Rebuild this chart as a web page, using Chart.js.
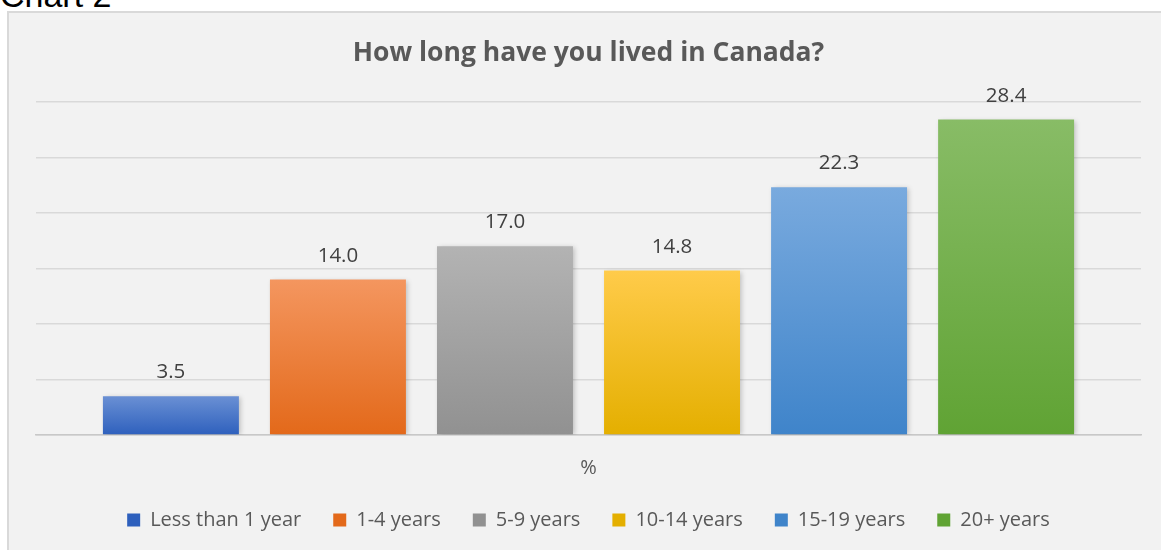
<!DOCTYPE html>
<html>
<head>
<meta charset="utf-8">
<script src="https://cdn.jsdelivr.net/npm/chart.js@4"></script>
<style>
  html, body { margin: 0; padding: 0; background: #ffffff; }
  body { width: 1161px; height: 550px; position: relative; overflow: hidden; }
  #caption {
    position: absolute; left: 0; top: -22px;
    font: 34px/1 "Liberation Sans", Arial, sans-serif; color: #000;
  }
  #frame {
    position: absolute; left: 7px; top: 11px; width: 1170px; height: 560px;
    background: #f2f2f2; border: 2px solid #d9d9d9; box-sizing: border-box;
  }
  #chartCanvas { position: absolute; left: 0; top: 0; }
</style>
</head>
<body>
<div id="caption">Chart 2</div>
<div id="frame"></div>
<canvas id="chartCanvas" width="1161" height="550"></canvas>
<script>
const categories = ["%"];
const seriesNames = ["Less than 1 year", "1-4 years", "5-9 years", "10-14 years", "15-19 years", "20+ years"];
const seriesValues = [3.5, 14.0, 17.0, 14.8, 22.3, 28.4];
const colorsTop = ["#6a90d4", "#f4965f", "#b3b3b3", "#ffcb4a", "#79aade", "#88bc66"];
const colorsBottom = ["#2e60bd", "#e3691a", "#919191", "#e4af00", "#3f84ca", "#60a334"];
const yTicks = [0, 5, 10, 15, 20, 25, 30];

const fontFamily = "'Open Sans', 'Noto Sans', sans-serif";

function barGradient(context, i) {
  const { chart } = context;
  const { ctx, chartArea, scales } = chart;
  if (!chartArea || context.type !== "data") {
    return colorsBottom[i];
  }
  const yBase = scales.y.getPixelForValue(0);
  const yTop = scales.y.getPixelForValue(context.raw);
  const grad = ctx.createLinearGradient(0, yTop, 0, yBase);
  grad.addColorStop(0, colorsTop[i]);
  grad.addColorStop(1, colorsBottom[i]);
  return grad;
}

const valueLabels = {
  id: "valueLabels",
  afterDatasetsDraw(chart) {
    const { ctx } = chart;
    ctx.save();
    ctx.font = `20.5px ${fontFamily}`;
    ctx.fillStyle = "#404040";
    ctx.textAlign = "center";
    ctx.textBaseline = "alphabetic";
    chart.data.datasets.forEach((ds, i) => {
      const meta = chart.getDatasetMeta(i);
      meta.data.forEach((bar, j) => {
        ctx.fillText(ds.data[j].toFixed(1), bar.x, bar.y - 18);
      });
    });
    ctx.restore();
  },
};

const barShadow = {
  id: "barShadow",
  beforeDatasetsDraw(chart) {
    const { ctx } = chart;
    ctx.save();
    ctx.shadowColor = "rgba(0,0,0,0.22)";
    ctx.shadowBlur = 5;
    ctx.shadowOffsetX = 2;
    ctx.shadowOffsetY = 1;
  },
  afterDatasetsDraw(chart) {
    chart.ctx.restore();
  },
};

const datasets = seriesNames.map((name, i) => ({
  label: name,
  data: [seriesValues[i]],
  backgroundColor: (context) => barGradient(context, i),
  borderWidth: 0,
  categoryPercentage: 0.907,
  barPercentage: 0.814,
}));

new Chart(document.getElementById("chartCanvas"), {
  type: "bar",
  data: { labels: categories, datasets },
  plugins: [barShadow, valueLabels],
  options: {
    responsive: false,
    animation: false,
    layout: { padding: { left: 36, right: 20, top: 0, bottom: 10 } },
    plugins: {
      title: {
        display: true,
        text: "How long have you lived in Canada?",
        color: "#595959",
        font: { family: fontFamily, size: 26.5, weight: "bold" },
        padding: { top: 38, bottom: 32 },
      },
      legend: {
        position: "bottom",
        labels: {
          color: "#595959",
          font: { family: fontFamily, size: 20 },
          boxWidth: 13,
          boxHeight: 13,
          padding: 32,
          generateLabels(chart) {
            return chart.data.datasets.map((ds, i) => ({
              text: ds.label,
              fillStyle: colorsBottom[i],
              strokeStyle: colorsBottom[i],
              lineWidth: 0,
              fontColor: "#595959",
              datasetIndex: i,
            }));
          },
        },
      },
      tooltip: { enabled: false },
    },
    scales: {
      x: {
        grid: { display: false, drawTicks: false },
        border: { display: true, color: "#c8c8c8", width: 1.5 },
        ticks: {
          color: "#595959",
          font: { family: fontFamily, size: 20 },
          padding: 21,
        },
        afterFit(scale) {
          scale.height = 43;
        },
      },
      y: {
        min: yTicks[0],
        max: yTicks[yTicks.length - 1],
        afterBuildTicks(axis) {
          axis.ticks = yTicks.map((v) => ({ value: v }));
        },
        grid: { color: "#d9d9d9", lineWidth: 1.5, drawTicks: false },
        border: { display: false },
        ticks: { display: false },
      },
    },
  },
});
</script>
</body>
</html>
